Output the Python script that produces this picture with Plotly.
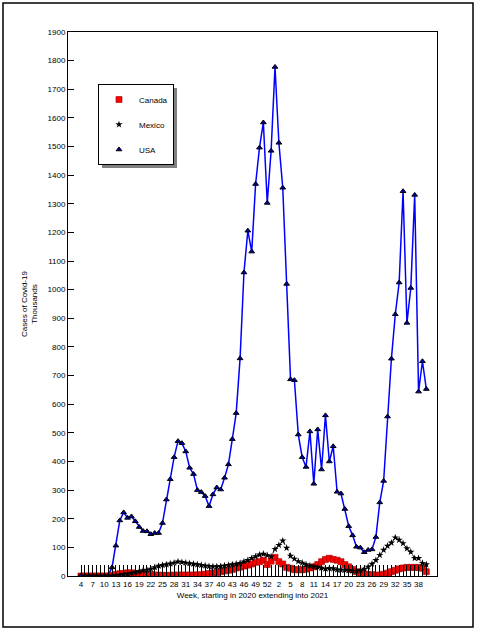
import plotly.graph_objects as go

# Week labels: 2020 weeks 4..53, then 2021 weeks 1..40
weeks = list(range(4, 54)) + list(range(1, 41))

# Weekly cases, thousands
usa = [0, 0, 0, 0, 0, 0, 0, 2, 30, 106, 194, 222, 203, 208, 191, 171, 157, 156, 146, 150,
       150, 185, 267, 338, 415, 471, 464, 435, 378, 356, 300, 293, 279, 244, 285, 309, 302, 343,
       390, 478, 569, 760, 1060, 1206, 1133, 1369, 1496, 1584, 1303, 1485,
       1778, 1513, 1356, 1020, 687, 684, 494, 415, 381, 505, 322, 512, 372, 561, 400, 453, 294,
       288, 234, 174, 142, 102, 99, 83, 91, 93, 136, 257, 332, 557, 759, 914, 1025, 1344, 884,
       1006, 1331, 644, 750, 653]

mexico = [0, 0, 0, 0, 0, 0, 0, 0, 1, 2, 4, 6, 8, 10, 13, 16, 19, 21, 25, 30,
          35, 38, 40, 43, 46, 50, 48, 46, 44, 42, 40, 38, 36, 34, 33, 33, 34, 36,
          38, 40, 42, 45, 50, 55, 62, 68, 74, 77, 72, 68,
          94, 108, 123, 98, 70, 60, 51, 46, 40, 36, 33, 31, 28, 25, 27, 26, 22,
          21, 21, 20, 18, 17, 20, 25, 32, 42, 55, 73, 91, 105, 116, 134, 126, 114, 96,
          84, 62, 62, 45, 40]

canada = [0, 0, 0, 0, 0, 0, 0, 0, 2, 5, 8, 9, 11, 11, 9, 8, 7, 6, 5, 3,
          3, 2, 2, 2, 3, 3, 3, 3, 3, 3, 4, 4, 6, 8, 10, 12, 15, 18,
          20, 23, 28, 31, 35, 38, 42, 48, 50, 55, 40, 52,
          65, 50, 42, 30, 27, 22, 22, 22, 24, 28, 32, 40, 50, 58, 62, 58, 55,
          50, 40, 32, 23, 15, 10, 7, 5, 4, 3, 3, 6, 10, 15, 20, 25, 28, 30,
          30, 30, 30, 27, 15]

idx = list(range(len(weeks)))
ticktext = [str(w) if i % 3 == 0 else "" for i, w in enumerate(weeks)]

FONT = "Liberation Sans, Arial, sans-serif"

series = [
    ("Canada", canada, dict(color="#FF0000", width=1),
     dict(symbol="square", size=6, color="#FF0000", line=dict(color="#990000", width=0.6))),
    ("Mexico", mexico, dict(color="#000000", width=1, dash="dot"),
     dict(symbol="star", size=5.5, color="#000000", line=dict(width=0))),
    ("USA", usa, dict(color="#0000FF", width=1.5),
     dict(symbol="triangle-up", size=5, color="#0000AA", line=dict(color="#000000", width=1))),
]

fig = go.Figure()
for i, (name, vals, ln, mk) in enumerate(series):
    fig.add_trace(go.Scatter(x=idx, y=vals, name=name, mode="lines", line=ln,
                             showlegend=False, legendgroup=str(i), hoverinfo="skip"))
for i, (name, vals, ln, mk) in enumerate(series):
    fig.add_trace(go.Scatter(x=idx, y=vals, name=name, mode="markers", marker=mk,
                             showlegend=True, legendgroup=str(i)))

L, R, T, B = 68, 40, 32, 55
W, H = 477, 631
pw, ph = W - L - R, H - T - B

def px_x(x):
    return (x - L) / pw

def px_y(y):
    return (H - B - y) / ph

fig.update_layout(
    width=W, height=H,
    margin=dict(l=L, r=R, t=T, b=B, pad=0),
    paper_bgcolor="white", plot_bgcolor="white",
    font=dict(family=FONT, size=8, color="black"),
    showlegend=True,
    legend=dict(
        x=px_x(98), y=px_y(84), xanchor="left", yanchor="top",
        bgcolor="white", bordercolor="black", borderwidth=1,
        font=dict(size=8, family=FONT), itemwidth=30,
        tracegroupgap=6, traceorder="grouped"),
    xaxis=dict(
        range=[-3.35, 91.75], tickmode="array", tickvals=idx, ticktext=ticktext,
        ticks="inside", ticklen=11, tickwidth=1, tickcolor="black",
        showgrid=False, zeroline=False, showline=True, linecolor="black",
        linewidth=1, mirror=True, tickangle=0,
        tickfont=dict(size=8, family=FONT),
        title=dict(text="Week, starting in 2020 extending into 2021",
                   font=dict(size=8, family=FONT), standoff=4)),
    yaxis=dict(
        range=[0, 1900], dtick=100, tick0=0,
        ticks="inside", ticklen=6, tickwidth=1, tickcolor="black",
        showgrid=False, zeroline=False, showline=True, linecolor="black",
        linewidth=1, mirror=True,
        tickfont=dict(size=8, family=FONT),
        title=dict(text="Cases of Covid-19<br>Thousands",
                   font=dict(size=8, family=FONT), standoff=8)),
)

# outer chart frame
fig.add_shape(type="rect", xref="paper", yref="paper",
              x0=px_x(3), x1=px_x(473), y0=px_y(627), y1=px_y(3),
              line=dict(color="black", width=1.5), fillcolor="rgba(0,0,0,0)",
              layer="below")
# legend drop shadow
fig.add_shape(type="rect", xref="paper", yref="paper",
              x0=px_x(102), x1=px_x(177), y0=px_y(168), y1=px_y(88),
              line=dict(width=0), fillcolor="#808080", layer="above")

fig.write_html("out.html")
